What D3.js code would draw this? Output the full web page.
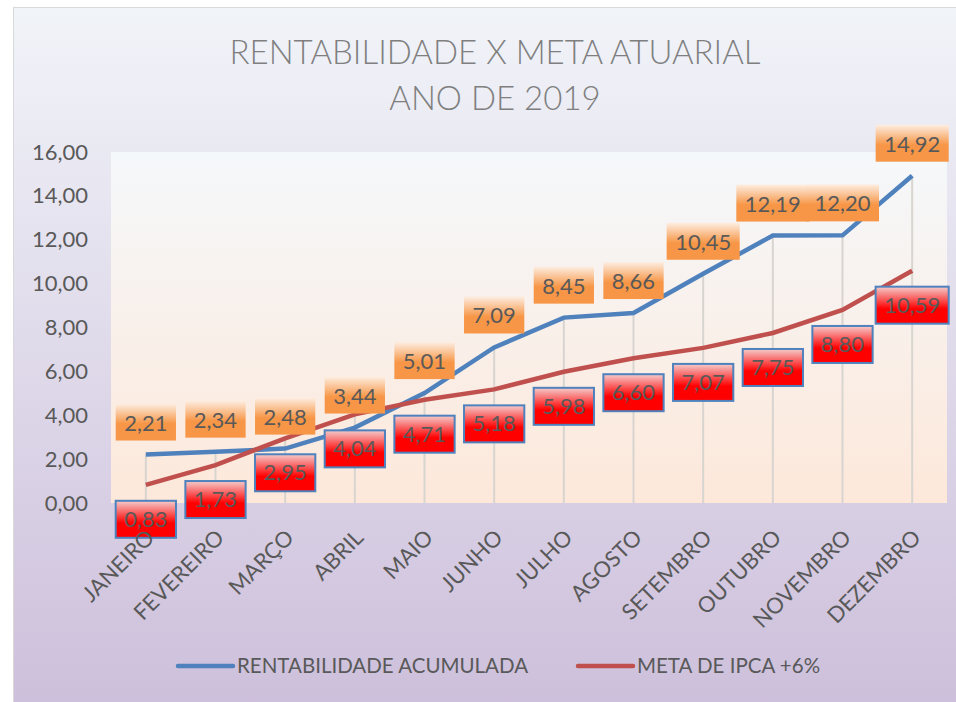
<!DOCTYPE html>
<html>
<head>
<meta charset="utf-8">
<script src="https://cdn.jsdelivr.net/npm/d3@7"></script>
<style>
  body { margin: 0; background: #fff; }
  svg { display: block; font-family: Lato, "Open Sans", sans-serif; }
</style>
</head>
<body>
<script>
const months = ["JANEIRO", "FEVEREIRO", "MARÇO", "ABRIL", "MAIO", "JUNHO", "JULHO", "AGOSTO", "SETEMBRO", "OUTUBRO", "NOVEMBRO", "DEZEMBRO"];
const rentabilidade = [2.21, 2.34, 2.48, 3.44, 5.01, 7.09, 8.45, 8.66, 10.45, 12.19, 12.20, 14.92];
const meta = [0.83, 1.73, 2.95, 4.04, 4.71, 5.18, 5.98, 6.60, 7.07, 7.75, 8.80, 10.59];
const yTicks = [0, 2, 4, 6, 8, 10, 12, 14, 16];

const width = 956, height = 702;
const plot = {left: 111, right: 947, top: 152, bottom: 503};

const fmt = v => d3.format(".2f")(v).replace(".", ",");

const svg = d3.select("body").append("svg")
    .attr("width", width)
    .attr("height", height);

const defs = svg.append("defs");
function vGrad(id, stops) {
    const g = defs.append("linearGradient").attr("id", id)
        .attr("x1", 0).attr("y1", 0).attr("x2", 0).attr("y2", 1);
    stops.forEach(s => g.append("stop").attr("offset", s[0]).attr("stop-color", s[1]));
}
vGrad("bgGrad", [[0, "#f1f4f9"], [1, "#cdbfdb"]]);
vGrad("plotGrad", [[0, "#f5f8fb"], [1, "#fde8da"]]);
vGrad("orangeGrad", [[0, "#fdeee2"], [0.55, "#f79646"], [1, "#f79646"]]);
vGrad("redGrad", [[0, "#f4cccc"], [0.6, "#ff0000"], [1, "#ff0000"]]);

// chart background
svg.append("rect")
    .attr("x", 13.5).attr("y", 7.5)
    .attr("width", width).attr("height", height)
    .attr("fill", "url(#bgGrad)")
    .attr("stroke", "#d9d9d9");

// title
const title = svg.append("text")
    .attr("text-anchor", "middle")
    .attr("fill", "#7f7f7f")
    .attr("font-size", 33)
    .attr("font-weight", 300);
title.append("tspan").attr("x", 495).attr("y", 64).text("RENTABILIDADE X META ATUARIAL");
title.append("tspan").attr("x", 495).attr("y", 110).text("ANO DE 2019");

// plot area
svg.append("rect")
    .attr("x", plot.left).attr("y", plot.top)
    .attr("width", plot.right - plot.left).attr("height", plot.bottom - plot.top)
    .attr("fill", "url(#plotGrad)");

const x = d3.scaleBand().domain(months).range([plot.left, plot.right]);
const y = d3.scaleLinear().domain([0, 16]).range([plot.bottom, plot.top]);
const cx = m => x(m) + x.bandwidth() / 2;

// y axis labels
const yAxis = svg.append("g")
    .attr("transform", `translate(${plot.left - 23},0)`)
    .call(d3.axisLeft(y).tickValues(yTicks).tickFormat(fmt).tickSize(0).tickPadding(0));
yAxis.select(".domain").remove();
yAxis.selectAll("text")
    .attr("fill", "#595959")
    .attr("font-size", 22)
    .attr("font-family", "Lato, 'Open Sans', sans-serif");

// drop lines
svg.append("g").selectAll("line")
    .data(months)
    .join("line")
    .attr("x1", d => cx(d)).attr("x2", d => cx(d))
    .attr("y1", (d, i) => y(Math.max(rentabilidade[i], meta[i])))
    .attr("y2", plot.bottom)
    .attr("stroke", "#d8d4d0")
    .attr("stroke-width", 2);

// lines
const line = d3.line().x((d, i) => cx(months[i])).y(d => y(d));
svg.append("path").datum(rentabilidade)
    .attr("d", line).attr("fill", "none")
    .attr("stroke", "#4f81bd").attr("stroke-width", 4.5);
svg.append("path").datum(meta)
    .attr("d", line).attr("fill", "none")
    .attr("stroke", "#c0504d").attr("stroke-width", 4.5);

// data labels
function labels(values, above, fill, stroke) {
    const g = svg.append("g").selectAll("g")
        .data(values)
        .join("g");
    g.append("text")
        .attr("text-anchor", "middle")
        .attr("font-size", 22)
        .attr("fill", "#595959")
        .attr("x", (d, i) => cx(months[i]))
        .attr("y", d => above ? y(d) - 24 : y(d) + 42)
        .text(fmt);
    g.insert("rect", "text")
        .each(function(d, i) {
            const w = d3.select(this.parentNode).select("text").node().getComputedTextLength() + 17;
            const top = above ? y(d) - 51 : y(d) + 16;
            d3.select(this)
                .attr("x", cx(months[i]) - w / 2).attr("y", top)
                .attr("width", w).attr("height", 37)
                .attr("fill", fill)
                .attr("stroke", stroke)
                .attr("stroke-width", stroke === "none" ? 0 : 2);
        });
}
labels(rentabilidade, true, "url(#orangeGrad)", "none");
labels(meta, false, "url(#redGrad)", "#4f81bd");

// x axis labels (drawn over the labels, like the original)
const xAxis = svg.append("g")
    .attr("transform", `translate(0,${plot.bottom})`)
    .call(d3.axisBottom(x).tickSize(0));
xAxis.select(".domain").remove();
xAxis.selectAll("text")
    .attr("fill", "#595959")
    .attr("font-size", 22)
    .attr("font-family", "Lato, 'Open Sans', sans-serif")
    .attr("text-anchor", "end")
    .attr("y", 0)
    .attr("dy", 0)
    .attr("transform", "translate(10,36) rotate(-45)");

// legend
const legend = [
    {name: "RENTABILIDADE ACUMULADA", color: "#4f81bd", x: 178},
    {name: "META DE IPCA +6%", color: "#c0504d", x: 578}
];
const lg = svg.append("g").selectAll("g").data(legend).join("g")
    .attr("transform", d => `translate(${d.x},666)`);
lg.append("line")
    .attr("x1", 0).attr("x2", 55)
    .attr("stroke", d => d.color).attr("stroke-width", 4.5)
    .attr("stroke-linecap", "round");
lg.append("text")
    .attr("x", 59).attr("dy", "0.35em")
    .attr("font-size", 20.5)
    .attr("fill", "#595959")
    .text(d => d.name);
</script>
</body>
</html>
